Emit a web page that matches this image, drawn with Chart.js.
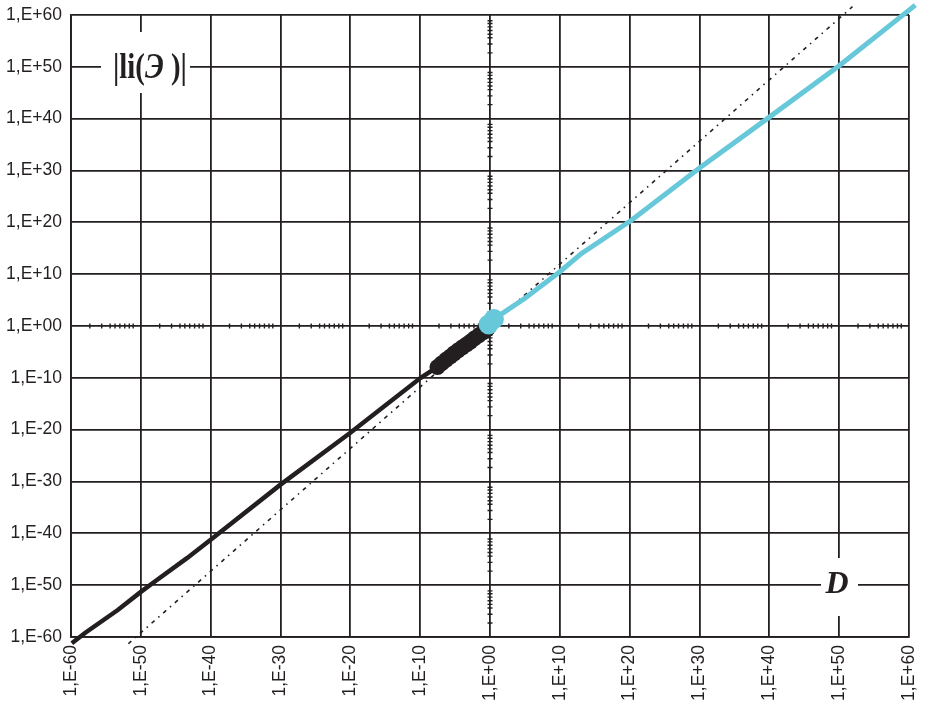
<!DOCTYPE html>
<html>
<head>
<meta charset="utf-8">
<script src="https://cdn.jsdelivr.net/npm/chart.js@4/dist/chart.umd.min.js"></script>
<style>
  html, body { margin: 0; padding: 0; background: #ffffff; }
  canvas { display: block; }
</style>
</head>
<body>
<canvas id="chart" width="926" height="706"></canvas>
<script>
// Axis ticks (both axes share the same decades)
const tickValues = [1e-60, 1e-50, 1e-40, 1e-30, 1e-20, 1e-10, 1e0, 1e10, 1e20, 1e30, 1e40, 1e50, 1e60];
const tickLabels = ['1,E-60', '1,E-50', '1,E-40', '1,E-30', '1,E-20', '1,E-10', '1,E+00',
                    '1,E+10', '1,E+20', '1,E+30', '1,E+40', '1,E+50', '1,E+60'];
// Small marks on the central axes, in decades past each major tick
const minorOffsets = [2.7, 4.4, 5.6, 6.3, 7.0, 7.7, 8.35, 8.9];

// Lower branch, D < 1
const lowD  = [1.3e-60, 1e-58, 5e-54, 1e-50, 2e-48, 4e-44, 1e-40, 1e-30, 1e-20, 1.2e-10, 3e-8];
const lowLi = [6e-62, 6e-60, 1.6e-55, 5e-52, 1e-49, 1.6e-45, 6e-42, 2.5e-31, 2.5e-21, 1e-10, 1.3e-8];
// Dense cluster of points just below D = 1
const clusterD  = [3e-8, 1.2e-7, 5e-7, 2e-6, 7e-6, 2.5e-5, 1e-4, 4e-4, 1.5e-3, 6e-3, 2.5e-2, 1e-1, 3.5e-1];
const clusterLi = [1.2e-8, 6e-8, 3e-7, 1.2e-6, 5e-6, 1.8e-5, 7e-5, 2.5e-4, 9e-4, 4e-3, 1.6e-2, 6e-2, 2e-1];
// Upper branch, D > 1
const highD  = [3.7, 1.4e2, 1e5, 1e10, 1.3e13, 2e20, 1e30, 1e40, 1e50, 8e60];
const highLi = [2.2e1, 5.8e2, 2.2e5, 3e10, 1e14, 2.8e20, 3e30, 2e40, 1.6e50, 8e61];
// Bulge at D = 1
const unitD  = [0.62, 3.7];
const unitLi = [1.95, 2.2e1];
// Reference power law
const refD  = [1.6e-52, 8e51];
const refLi = [5e-62, 4e61];

const ink = '#231f20';
const cyan = '#66c8d8';
const pts = (xs, ys) => xs.map((x, i) => ({ x: x, y: ys[i] }));

// Minor marks along the D = 1 and |li| = 1 lines
const minorTicks = {
  id: 'minorTicks',
  beforeDatasetsDraw(chart) {
    const { ctx, scales: { x, y } } = chart;
    const x0 = x.getPixelForValue(1), y0 = y.getPixelForValue(1);
    ctx.save();
    ctx.strokeStyle = ink;
    ctx.lineWidth = 1.4;
    ctx.beginPath();
    for (let e = -60; e < 60; e += 10) {
      minorOffsets.forEach(o => {
        const v = Math.pow(10, e + o);
        const px = x.getPixelForValue(v);
        ctx.moveTo(px, y0 - 2.5); ctx.lineTo(px, y0 + 2.5);
        const py = y.getPixelForValue(v);
        ctx.moveTo(x0 - 2.5, py); ctx.lineTo(x0 + 2.5, py);
      });
    }
    ctx.stroke();
    ctx.restore();
  }
};

// Boxed captions for the axes quantities
const captions = {
  id: 'captions',
  afterDraw(chart) {
    const { ctx } = chart;
    ctx.save();
    ctx.fillStyle = '#ffffff';
    ctx.fillRect(101, 32, 89, 61);
    ctx.fillRect(821, 558, 37, 58);
    ctx.fillStyle = ink;
    ctx.textBaseline = 'alphabetic';
    // |li(Э )|
    ctx.save();
    ctx.translate(113, 78);
    ctx.scale(0.8, 1);
    const parts = [
      ['bold 36px "Liberation Serif"', '|li('],
      ['bold italic 36px "Liberation Serif"', 'Э'],
      ['bold 36px "Liberation Serif"', ' )|']
    ];
    let cx = 0;
    parts.forEach(([f, t]) => {
      ctx.font = f;
      ctx.fillText(t, cx, 0);
      cx += ctx.measureText(t).width;
    });
    ctx.restore();
    // D
    ctx.font = 'bold italic 32px "Liberation Serif"';
    ctx.textAlign = 'center';
    ctx.fillText('D', 837, 593);
    ctx.restore();
  }
};

const axisCommon = {
  type: 'logarithmic',
  min: 1e-60,
  max: 1e60,
  afterBuildTicks(scale) {
    scale.ticks = tickValues.map(v => ({ value: v }));
  },
  grid: { color: ink, lineWidth: 1.8, drawTicks: false },
  border: { display: true, color: ink, width: 1.8 }
};

const tickFont = { family: '"Liberation Sans", Arial', size: 17.5 };

new Chart(document.getElementById('chart'), {
  type: 'scatter',
  data: {
    datasets: [
      {
        data: pts(unitD, unitLi), showLine: false,
        pointRadius: 10, pointBackgroundColor: cyan, pointBorderWidth: 0, clip: false
      },
      {
        data: pts(highD, highLi), showLine: true, borderColor: cyan, borderWidth: 5,
        pointRadius: 0, tension: 0, clip: false
      },
      {
        data: pts(clusterD, clusterLi), showLine: false,
        pointRadius: 8, pointBackgroundColor: ink, pointBorderWidth: 0, clip: false
      },
      {
        data: pts(lowD, lowLi), showLine: true, borderColor: ink, borderWidth: 4.5,
        pointRadius: 0, tension: 0, clip: false
      },
      {
        data: pts(refD, refLi), showLine: true, borderColor: ink, borderWidth: 1.6,
        borderDash: [4, 5, 1.5, 5], pointRadius: 0, clip: false
      }
    ]
  },
  options: {
    responsive: false,
    animation: false,
    devicePixelRatio: 1,
    layout: { padding: { top: 15, right: 17, left: 0, bottom: 0 } },
    plugins: { legend: { display: false }, tooltip: { enabled: false } },
    scales: {
      x: Object.assign({}, axisCommon, {
        position: 'bottom',
        afterFit(scale) {
          scale.height = 69;
          scale.paddingLeft = 0; scale.paddingRight = 0;
        },
        ticks: {
          autoSkip: false, minRotation: 90, maxRotation: 90, padding: 8,
          color: ink, font: tickFont,
          callback: (v, i) => tickLabels[i]
        }
      }),
      y: Object.assign({}, axisCommon, {
        position: 'left',
        afterFit(scale) {
          scale.width = 71;
          scale.paddingTop = 0; scale.paddingBottom = 0;
        },
        ticks: {
          autoSkip: false, padding: 9,
          color: ink, font: tickFont,
          callback: (v, i) => tickLabels[i]
        }
      })
    }
  },
  plugins: [minorTicks, captions]
});
</script>
</body>
</html>
